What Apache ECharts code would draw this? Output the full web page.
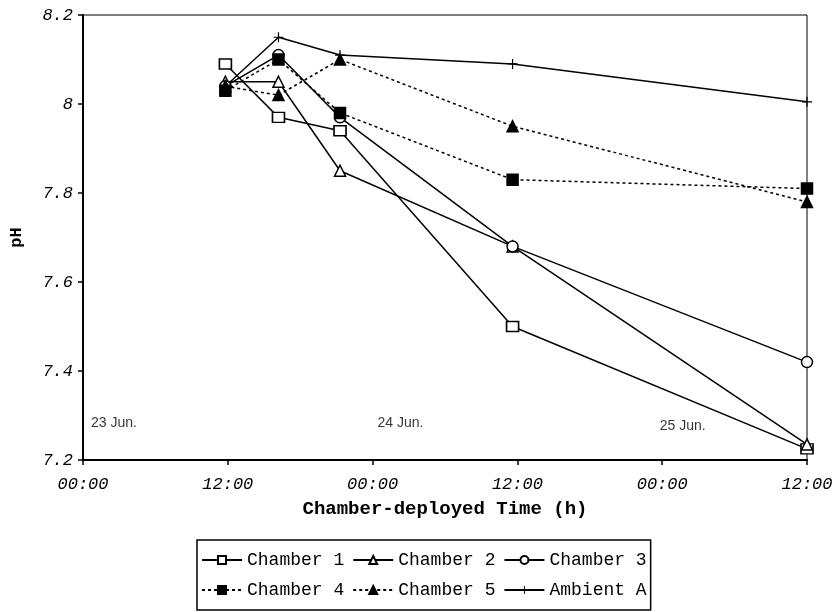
<!DOCTYPE html>
<html>
<head>
<meta charset="utf-8">
<script src="https://cdn.jsdelivr.net/npm/echarts@6/dist/echarts.min.js"></script>
<style>
html,body{margin:0;padding:0;background:#fff;}
#chart{width:839px;height:612px;}
</style>
</head>
<body>
<div id="chart"></div>
<script>
// Hours since 23 Jun 00:00
const times = [11.8, 16.2, 21.3, 35.6, 60];
const chamber1 = [8.09, 7.97, 7.94, 7.50, 7.225];
const chamber2 = [8.05, 8.05, 7.85, 7.68, 7.235];
const chamber3 = [8.04, 8.11, 7.97, 7.68, 7.42];
const chamber4 = [8.03, 8.10, 7.98, 7.83, 7.81];
const chamber5 = [8.04, 8.02, 8.10, 7.95, 7.78];
const ambientA = [8.04, 8.15, 8.11, 8.09, 8.005];
const seriesNames = ['Chamber 1', 'Chamber 2', 'Chamber 3', 'Chamber 4', 'Chamber 5', 'Ambient A'];
const xTickLabels = ['00:00', '12:00'];
const dateLabels = ['23 Jun.', '24 Jun.', '25 Jun.'];
const dateLabelTimes = [0.66, 24.4, 47.8];
const dateLabelValues = [7.283, 7.283, 7.276];

const mono = '"Liberation Mono", "Courier New", monospace';
const pair = vals => times.map((t, i) => [t, vals[i]]);
const plusPath = 'path://M4.4,0h1.2v4.4h4.4v1.2h-4.4v4.4h-1.2v-4.4h-4.4v-1.2h4.4z';

function mk(name, vals, symbol, size, fill, dashed) {
  return {
    name, type: 'line', data: pair(vals),
    symbol, symbolSize: size,
    showSymbol: true,
    lineStyle: { color: '#000', width: 1.5, type: dashed ? [3, 3] : 'solid' },
    itemStyle: { color: fill, borderColor: '#000', borderWidth: 1.5 },
    emphasis: { disabled: true },
    animation: false
  };
}

const series = [
  mk(seriesNames[0], chamber1, 'rect', [12, 10], '#fff', false),
  mk(seriesNames[1], chamber2, 'triangle', 11, '#fff', false),
  mk(seriesNames[2], chamber3, 'circle', 11, '#fff', false),
  mk(seriesNames[3], chamber4, 'rect', 11, '#000', true),
  mk(seriesNames[4], chamber5, 'triangle', 11, '#000', true),
  mk(seriesNames[5], ambientA, plusPath, 10, '#000', false)
];
series[5].itemStyle.borderWidth = 0;

series.push({
  name: 'dates', type: 'scatter', data: dateLabelTimes.map((t, i) => [t, dateLabelValues[i], dateLabels[i]]),
  symbolSize: 0, silent: true, animation: false,
  label: {
    show: true, position: 'right', distance: 0,
    formatter: p => p.data[2],
    fontFamily: '"Liberation Sans", Arial, sans-serif', fontSize: 14, color: '#000'
  }
});

const chart = echarts.init(document.getElementById('chart'), null, { renderer: 'canvas' });
chart.setOption({
  backgroundColor: '#fff',
  animation: false,
  grid: { left: 82, right: 32, top: 15, bottom: 152, show: true, borderColor: '#000', borderWidth: 1 },
  xAxis: {
    type: 'value', min: 0, max: 60, interval: 12,
    name: 'Chamber-deployed Time (h)', nameLocation: 'middle', nameGap: 40,
    nameTextStyle: { fontFamily: mono, fontWeight: 'bold', fontSize: 19, color: '#000' },
    axisLine: { show: true, onZero: false, lineStyle: { color: '#000', width: 2 } },
    axisTick: { show: true, length: 5, lineStyle: { color: '#000', width: 1.5 } },
    splitLine: { show: false },
    axisLabel: {
      margin: 16, color: '#000', fontFamily: mono, fontStyle: 'italic', fontSize: 17,
      formatter: v => xTickLabels[(v % 24 === 0) ? 0 : 1]
    }
  },
  yAxis: {
    type: 'value', min: 7.2, max: 8.2, interval: 0.2,
    name: 'pH', nameLocation: 'middle', nameGap: 58, nameRotate: 90,
    nameTextStyle: { fontFamily: mono, fontWeight: 'bold', fontSize: 17, color: '#000' },
    axisLine: { show: true, lineStyle: { color: '#000', width: 2 } },
    axisTick: { show: true, length: 5, lineStyle: { color: '#000', width: 1.5 } },
    splitLine: { show: false },
    axisLabel: {
      margin: 10, color: '#000', fontFamily: mono, fontStyle: 'italic', fontSize: 17,
      formatter: v => String(parseFloat(v.toFixed(1)))
    }
  },
  legend: {
    data: seriesNames,
    left: 197, top: 540, width: 470,
    orient: 'horizontal',
    itemWidth: 40, itemHeight: 10, itemGap: 8,
    padding: [9, 4, 9, 4],
    borderColor: '#000', borderWidth: 1.5,
    textStyle: { fontFamily: mono, fontSize: 18, lineHeight: 22, color: '#000' },
    selectedMode: false,
    inactiveColor: '#000'
  },
  series
});
</script>
</body>
</html>
